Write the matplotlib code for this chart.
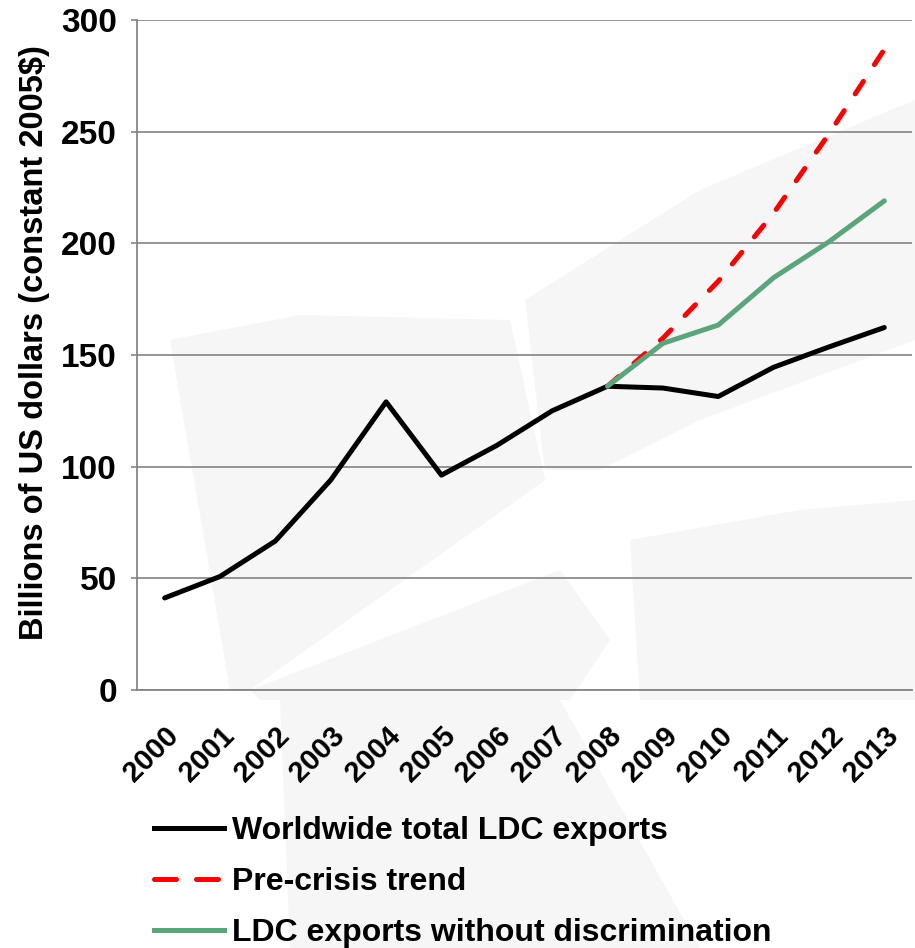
import matplotlib
matplotlib.use("Agg")
import matplotlib.pyplot as plt
from matplotlib.lines import Line2D
from matplotlib.patches import Polygon

years = [str(y) for y in range(2000, 2014)]
worldwide = [41.2, 50.8, 66.7, 94.0, 129.0, 96.2, 109.5, 125.0, 136.0, 135.2, 131.4, 144.5, 153.6, 162.3]
trend_years = years[8:]
pre_crisis = [136.0, 157.5, 183.0, 213.5, 249.0, 286.8]
no_discrim = [136.0, 155.2, 163.4, 184.6, 200.7, 219.0]
legend_labels = ["Worldwide total LDC exports", "Pre-crisis trend", "LDC exports without discrimination"]

plt.rcParams['font.family'] = ['Liberation Sans', 'DejaVu Sans']
plt.rcParams['font.weight'] = 'bold'

W, H = 915, 948
fig = plt.figure(figsize=(W / 100, H / 100), dpi=100)
fig.patch.set_facecolor('white')

# faint watermark shapes (pixel outlines -> figure fraction)
shapes = [
    [(170, 340), (300, 315), (510, 320), (545, 480), (250, 690), (230, 690)],
    [(525, 300), (700, 190), (915, 100), (915, 340), (700, 420), (600, 470), (545, 470)],
    [(630, 540), (800, 510), (915, 500), (915, 700), (640, 700)],
    [(250, 690), (560, 570), (610, 640), (570, 700), (260, 700)],
    [(280, 700), (560, 700), (700, 948), (290, 948)],
]
for pts in shapes:
    fig.add_artist(Polygon([(px / W, 1 - py / H) for px, py in pts], closed=True,
                           transform=fig.transFigure, facecolor='#f6f6f6',
                           edgecolor='none', zorder=-10))

ax = fig.add_axes([0.1497, 0.2722, 0.8470, 0.7067])
ax.patch.set_alpha(0)
ax.set_zorder(1)

x = list(range(len(years)))
xt = list(range(8, 14))
LW = 3.6
ax.plot(x, worldwide, color='black', lw=LW, solid_capstyle='round', solid_joinstyle='round', zorder=3)
ax.plot(xt, pre_crisis, color='#ff0000', lw=LW, dashes=(3.0, 4.0), dash_capstyle='round', zorder=2)
ax.plot(xt, no_discrim, color='#5aa57a', lw=LW, solid_capstyle='round', solid_joinstyle='round', zorder=4)

ax.set_xlim(-0.5, 13.5)
ax.set_ylim(0, 300)
ax.set_yticks(range(0, 301, 50))
ax.set_xticks(x)
ax.set_xticklabels(years, rotation=45, ha='right', va='top', rotation_mode='anchor', fontsize=21, fontweight='bold')
for lab in ax.get_yticklabels():
    lab.set_fontsize(24)
    lab.set_fontweight('bold')
ax.tick_params(axis='x', length=0, pad=23)
ax.tick_params(axis='y', length=4.5, width=1.2, color='#868686', pad=10, direction='out')
ax.grid(axis='y', color='#8c8c8c', lw=1.3)
ax.set_axisbelow(True)
for s in ['top', 'right']:
    ax.spines[s].set_visible(False)
for s in ['left', 'bottom']:
    ax.spines[s].set_color('#868686')
    ax.spines[s].set_linewidth(1.3)
ax.set_ylabel("Billions of US dollars (constant 2005$)", fontsize=23.5, fontweight='bold')
ax.yaxis.set_label_coords(-0.112, 0.518)

handles = [Line2D([], [], color='black', lw=LW),
           Line2D([], [], color='#ff0000', lw=LW, dashes=(4.4, 4.0), dash_capstyle='round'),
           Line2D([], [], color='#5aa57a', lw=LW)]
fig.legend(handles, legend_labels, loc='upper left', bbox_to_anchor=(0.168, 0.139), frameon=False,
           handlelength=2.2, handletextpad=0.25, labelspacing=0.65,
           prop={'weight': 'bold', 'size': 23}, borderaxespad=0, borderpad=0)

fig.savefig('out.png', dpi=100)
